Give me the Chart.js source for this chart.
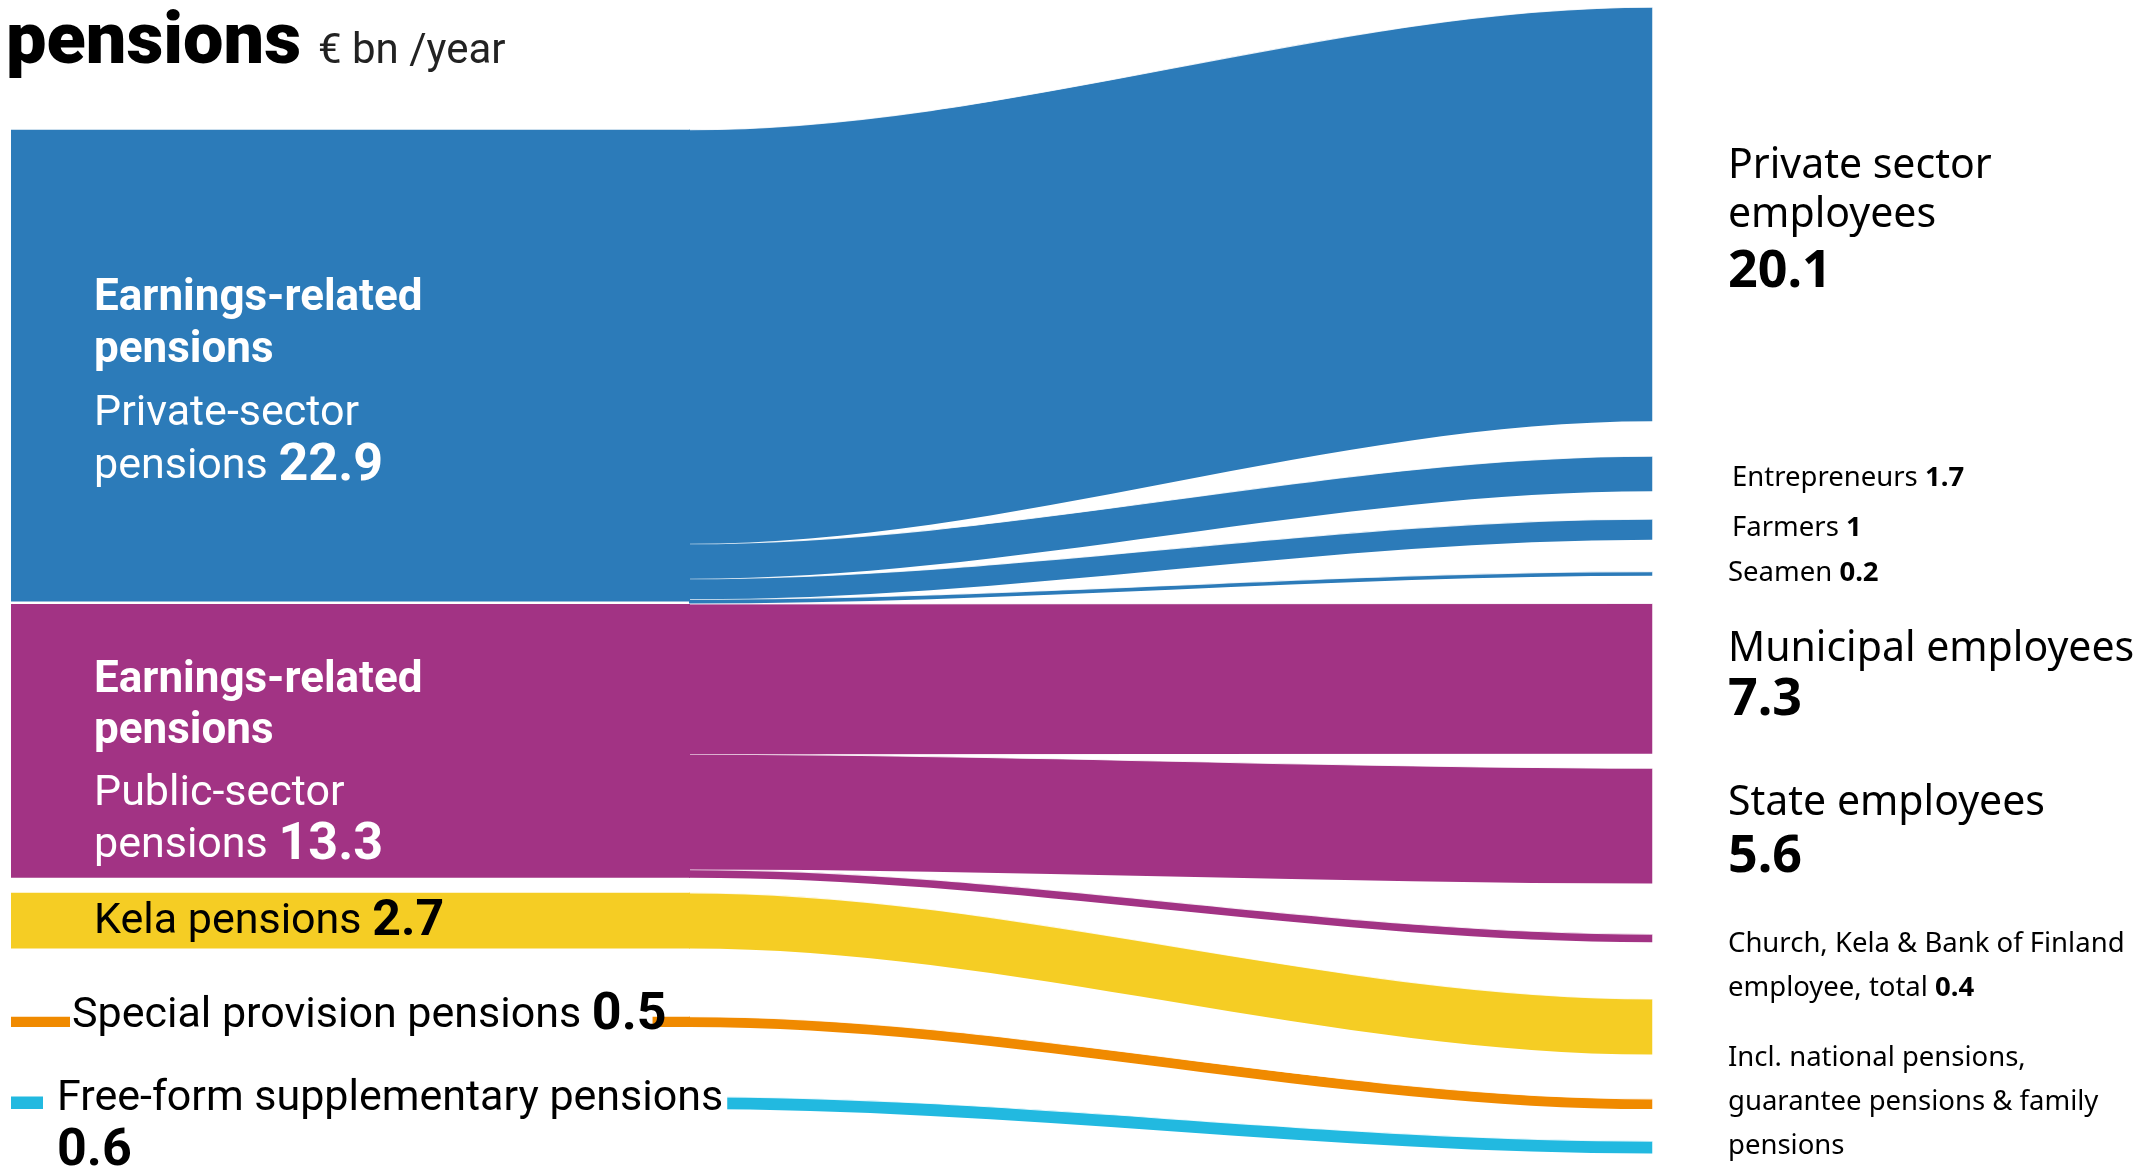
<!DOCTYPE html>
<html><head><meta charset="utf-8">
<script src="https://cdn.jsdelivr.net/npm/chart.js@4.4.1/dist/chart.umd.min.js"></script>
<style>html,body{margin:0;padding:0;background:#fff;overflow:hidden}canvas{display:block}</style>
</head><body>
<canvas id="c" width="2151" height="1174"></canvas>
<script>
// ---------- data (€ bn / year) ----------
const sourceNames  = ["Private-sector pensions", "Public-sector pensions", "Kela pensions", "Special provision pensions", "Free-form supplementary pensions"];
const sourceValues = [22.9, 13.3, 2.7, 0.5, 0.6];
const targetNames  = ["Private sector employees", "Entrepreneurs", "Farmers", "Seamen", "Municipal employees", "State employees",
                      "Church, Kela & Bank of Finland employee, total", "Incl. national pensions, guarantee pensions & family pensions",
                      "Special provision pensions", "Free-form supplementary pensions"];
const targetValues = [20.1, 1.7, 1, 0.2, 7.3, 5.6, 0.4, 2.7, 0.5, 0.6];
const flowSource   = [0, 0, 0, 0, 1, 1, 1, 2, 3, 4];

// ---------- layout & style (not data) ----------
const sourceColors = ["#2c7bb9", "#a23384", "#f5cd24", "#f08a00", "#22b9e0"];
const X_MAX = 2151, Y_MAX = 57;              // y axis in € bn units
const LEFT_X0 = 11, LEFT_X1 = 690, RIGHT_X = 1652;
const sourceGapsBefore = [6.3, 0.12, 0.73, 3.31, 3.38];
const targetGapsBefore = [0.35, 1.7, 1.35, 1.55, 1.35, 0.7, 2.45, 2.75, 2.15, 1.55];

function stack(values, gaps) {
  let y = 0;
  return values.map((v, i) => { y += gaps[i]; const t = y; y += v; return [t, y]; });
}
const srcPos = stack(sourceValues, sourceGapsBefore);
const tgtPos = stack(targetValues, targetGapsBefore);
const cursor = srcPos.map(p => p[0]);
const flowLeft = flowSource.map((s, i) => { const t = cursor[s]; cursor[s] += targetValues[i]; return [t, cursor[s]]; });

const NONE = 'rgba(0,0,0,0)';
const SEAM = 'rgba(255,255,255,0.85)';
function edge(pts, o) {
  const d = {
    data: pts.map(p => ({ x: p[0], y: p[1] })),
    borderWidth: o.seam ? 1.2 : 1,
    borderColor: o.seam ? SEAM : NONE,
    backgroundColor: o.bg || NONE,
    fill: o.fill || false,
    pointRadius: 0, pointHoverRadius: 0, pointHitRadius: 0,
    cubicInterpolationMode: 'monotone'
  };
  if (o.seam) d.segment = { borderColor: c => (c.p0.parsed.x < LEFT_X1 - 0.5 ? NONE : SEAM) };
  return d;
}

const datasets = [];
// left nodes
srcPos.forEach(([t, b], i) => {
  datasets.push(edge([[LEFT_X0, t], [LEFT_X1, t]], {}));
  datasets.push(edge([[LEFT_X0, b], [LEFT_X1, b]], { fill: '-1', bg: sourceColors[i] }));
});
// flows
flowSource.forEach((s, i) => {
  const [lt, lb] = flowLeft[i], [rt, rb] = tgtPos[i];
  const x0 = LEFT_X1 - 1;
  datasets.push(edge([[x0, lt], [LEFT_X1, lt], [RIGHT_X, rt], [RIGHT_X + 0.5, rt]], { seam: true }));
  datasets.push(edge([[x0, lb], [LEFT_X1, lb], [RIGHT_X, rb], [RIGHT_X + 0.5, rb]], { fill: '-1', bg: sourceColors[s] }));
});

// ---------- text ----------
const FL = "Roboto, 'Liberation Sans', sans-serif";
const FR = "'Noto Sans', 'Open Sans', sans-serif";
const fmt = v => String(v);
const W = '#ffffff', K = '#000000';
const R = (t, f, c) => ({ t, f, c });
const RX = 1728;

const labels = [
  // title
  { x: 6, y: 63, base: 'alphabetic', runs: [R('pensions', `900 72px ${FL}`, K)] },
  { x: 318, y: 63, base: 'alphabetic', runs: [R('€ bn /year', `400 42px ${FL}`, '#222')] },
  // left, blue
  { x: 94, y: 299, runs: [R('Earnings-related', `700 44px ${FL}`, W)] },
  { x: 94, y: 351, runs: [R('pensions', `700 44px ${FL}`, W)] },
  { x: 94, y: 414, runs: [R('Private-sector', `400 43px ${FL}`, W)] },
  { x: 94, y: 467, runs: [R('pensions ', `400 43px ${FL}`, W), R(fmt(sourceValues[0]), `700 52px ${FL}`, W)] },
  // left, purple
  { x: 94, y: 681, runs: [R('Earnings-related', `700 44px ${FL}`, W)] },
  { x: 94, y: 732, runs: [R('pensions', `700 44px ${FL}`, W)] },
  { x: 94, y: 794, runs: [R('Public-sector', `400 43px ${FL}`, W)] },
  { x: 94, y: 846, runs: [R('pensions ', `400 43px ${FL}`, W), R(fmt(sourceValues[1]), `700 52px ${FL}`, W)] },
  // yellow
  { x: 94, y: 922, runs: [R('Kela pensions ', `400 43px ${FL}`, K), R(fmt(sourceValues[2]), `700 50px ${FL}`, K)] },
  // orange / cyan
  { x: 72, y: 1016, box: { l: 2, r: 14 }, runs: [R('Special provision pensions ', `400 43px ${FL}`, K), R(fmt(sourceValues[3]), `700 52px ${FL}`, K)] },
  { x: 57, y: 1099, box: { l: 14, r: -4 }, runs: [R('Free-form supplementary pensions', `400 43px ${FL}`, K)] },
  { x: 57, y: 1152, runs: [R(fmt(sourceValues[4]), `700 52px ${FL}`, K)] },
  // right
  { x: RX, y: 166, runs: [R('Private sector', `400 41px ${FR}`, K)] },
  { x: RX, y: 215, runs: [R('employees', `400 41px ${FR}`, K)] },
  { x: RX, y: 272, runs: [R(fmt(targetValues[0]), `700 52px ${FR}`, K)] },
  { x: RX + 4, y: 478, runs: [R('Entrepreneurs ', `400 27.5px ${FR}`, K), R(fmt(targetValues[1]), `700 27.5px ${FR}`, K)] },
  { x: RX + 4, y: 528, runs: [R('Farmers ', `400 27.5px ${FR}`, K), R(fmt(targetValues[2]), `700 27.5px ${FR}`, K)] },
  { x: RX, y: 573, runs: [R('Seamen ', `400 27.5px ${FR}`, K), R(fmt(targetValues[3]), `700 27.5px ${FR}`, K)] },
  { x: RX, y: 649, runs: [R('Municipal employees', `400 41px ${FR}`, K)] },
  { x: RX, y: 700, runs: [R(fmt(targetValues[4]), `700 52px ${FR}`, K)] },
  { x: RX, y: 803, runs: [R('State employees', `400 41px ${FR}`, K)] },
  { x: RX, y: 857, runs: [R(fmt(targetValues[5]), `700 52px ${FR}`, K)] },
  { x: RX, y: 944, runs: [R('Church, Kela & Bank of Finland', `400 27.5px ${FR}`, K)] },
  { x: RX, y: 988, runs: [R('employee, total ', `400 27.5px ${FR}`, K), R(fmt(targetValues[6]), `700 27.5px ${FR}`, K)] },
  { x: RX, y: 1058, runs: [R('Incl. national pensions,', `400 27.5px ${FR}`, K)] },
  { x: RX, y: 1102, runs: [R('guarantee pensions & family', `400 27.5px ${FR}`, K)] },
  { x: RX, y: 1146, runs: [R('pensions', `400 27.5px ${FR}`, K)] }
];

const labelPlugin = {
  id: 'sankeyLabels',
  afterDatasetsDraw(chart) {
    const ctx = chart.ctx;
    ctx.save();
    labels.forEach(L => {
      ctx.textBaseline = L.base || 'middle';
      let w = 0;
      L.runs.forEach(r => { ctx.font = r.f; w += ctx.measureText(r.t).width; });
      if (L.box) {
        ctx.fillStyle = '#fff';
        ctx.fillRect(L.x - L.box.l, L.y - 24, w + L.box.l - L.box.r, 48);
      }
      let x = L.x;
      L.runs.forEach(r => {
        ctx.font = r.f; ctx.fillStyle = r.c;
        ctx.fillText(r.t, x, L.y);
        x += ctx.measureText(r.t).width;
      });
    });
    ctx.restore();
  }
};

new Chart(document.getElementById('c'), {
  type: 'line',
  data: { datasets },
  options: {
    responsive: false,
    animation: false,
    devicePixelRatio: 1,
    layout: { padding: 0 },
    events: [],
    plugins: { legend: { display: false }, tooltip: { enabled: false }, title: { display: false } },
    scales: {
      x: { type: 'linear', min: 0, max: X_MAX, display: false },
      y: { type: 'linear', min: 0, max: Y_MAX, reverse: true, display: false }
    }
  },
  plugins: [labelPlugin]
});
</script>
</body></html>
